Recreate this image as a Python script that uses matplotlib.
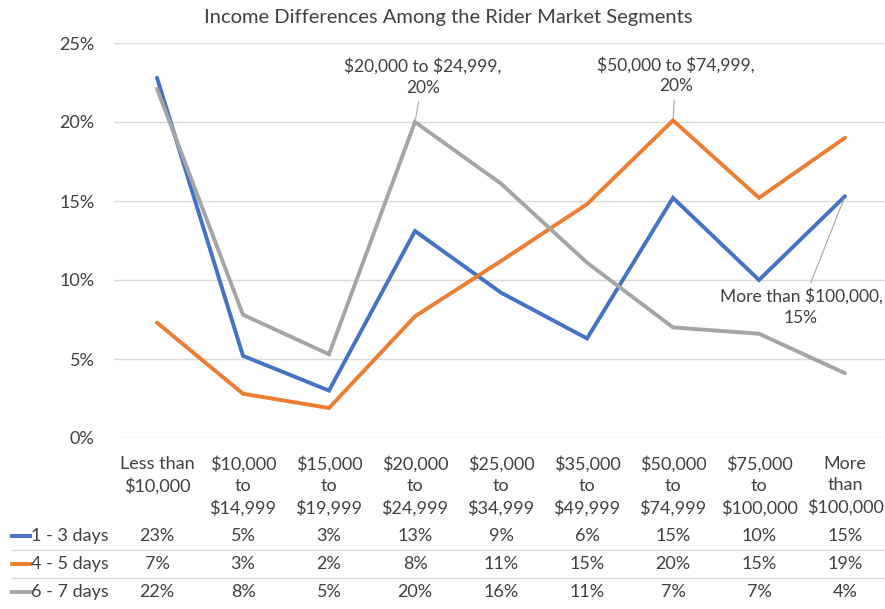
import numpy as np
import matplotlib.pyplot as plt
from matplotlib.transforms import blended_transform_factory

plt.rcParams['font.family'] = ['Lato', 'DejaVu Sans']
plt.rcParams['text.parse_math'] = False

# data
categories = ['Less than $10,000', '$10,000 to $14,999', '$15,000 to $19,999',
              '$20,000 to $24,999', '$25,000 to $34,999', '$35,000 to $49,999',
              '$50,000 to $74,999', '$75,000 to $100,000', 'More than $100,000']
tick_labels = ['Less than\n$10,000', '$10,000\nto\n$14,999', '$15,000\nto\n$19,999',
               '$20,000\nto\n$24,999', '$25,000\nto\n$34,999', '$35,000\nto\n$49,999',
               '$50,000\nto\n$74,999', '$75,000\nto\n$100,000', 'More\nthan\n$100,000']
series_names = ['1 - 3 days', '4 - 5 days', '6 - 7 days']
days_1_3 = [0.228, 0.052, 0.030, 0.131, 0.092, 0.063, 0.152, 0.100, 0.153]
days_4_5 = [0.073, 0.028, 0.019, 0.077, 0.112, 0.148, 0.201, 0.152, 0.190]
days_6_7 = [0.221, 0.078, 0.053, 0.200, 0.161, 0.111, 0.070, 0.066, 0.041]
colors = ['#4472C4', '#ED7D31', '#A5A5A5']

W, H = 885, 609
fig = plt.figure(figsize=(W / 100, H / 100), dpi=100)
# plot area in pixels: left 114, right 888, top 43, bottom 438
ax = fig.add_axes([114 / W, (H - 438) / H, 774 / W, 395 / H])

x = np.arange(len(categories))
all_series = [days_1_3, days_4_5, days_6_7]
for vals, col, name in zip(all_series, colors, series_names):
    ax.plot(x, vals, color=col, lw=2.8, solid_capstyle='round',
            solid_joinstyle='miter', label=name, zorder=3)

ax.set_xlim(-0.5, len(categories) - 0.5)
ax.set_ylim(0, 0.25)
ax.set_yticks(np.arange(0, 0.26, 0.05))
ax.set_yticklabels([f'{v:.0%}' for v in np.arange(0, 0.26, 0.05)])
ax.set_xticks(x)
ax.set_xticklabels(tick_labels, linespacing=1.4, va='top')
ax.tick_params(axis='x', length=0, pad=13, labelsize=13, colors='#404040')
ax.tick_params(axis='y', length=0, pad=14, labelsize=13, colors='#404040')
ax.grid(axis='y', color='#D9D9D9', lw=1)
ax.set_axisbelow(True)
for s in ax.spines.values():
    s.set_visible(False)

fig.text(448 / W, 1 - 18 / H, 'Income Differences Among the Rider Market Segments',
         ha='center', va='center', fontsize=14.5, color='#404040')

# data labels with leader lines
def label(idx, vals, dx, dy):
    txt = f'{categories[idx]},\n{vals[idx]:.0%}'
    ax.annotate(txt, xy=(idx, vals[idx]), xytext=(dx, dy), textcoords='offset pixels',
                ha='center', va='center', fontsize=12.5, color='#404040',
                linespacing=1.4,
                arrowprops=dict(arrowstyle='-', color='#A6A6A6', lw=0.8,
                                shrinkA=2, shrinkB=2),
                annotation_clip=False)

label(3, days_6_7, 8, 45)
label(6, days_4_5, 3, 45)
label(8, days_1_3, -44, -111)

# data table below the axis
tr = blended_transform_factory(ax.transData, fig.transFigure)
row_y = [536, 564, 592]
for vals, col, name, ry in zip(all_series, colors, series_names, row_y):
    for i, v in enumerate(vals):
        ax.text(i, 1 - ry / H, f'{v:.0%}', transform=tr, ha='center', va='center',
                fontsize=13, color='#404040')
    fig.lines.append(plt.Line2D([12 / W, 30 / W], [1 - ry / H] * 2, color=col, lw=2.8,
                                transform=fig.transFigure))
    fig.text(31 / W, 1 - ry / H, name, ha='left', va='center', fontsize=13, color='#404040')

for sy in [550, 578]:
    fig.lines.append(plt.Line2D([12 / W, 1.0], [1 - sy / H] * 2, color='#D9D9D9', lw=1,
                                transform=fig.transFigure))

fig.savefig('out.png', dpi=100)
